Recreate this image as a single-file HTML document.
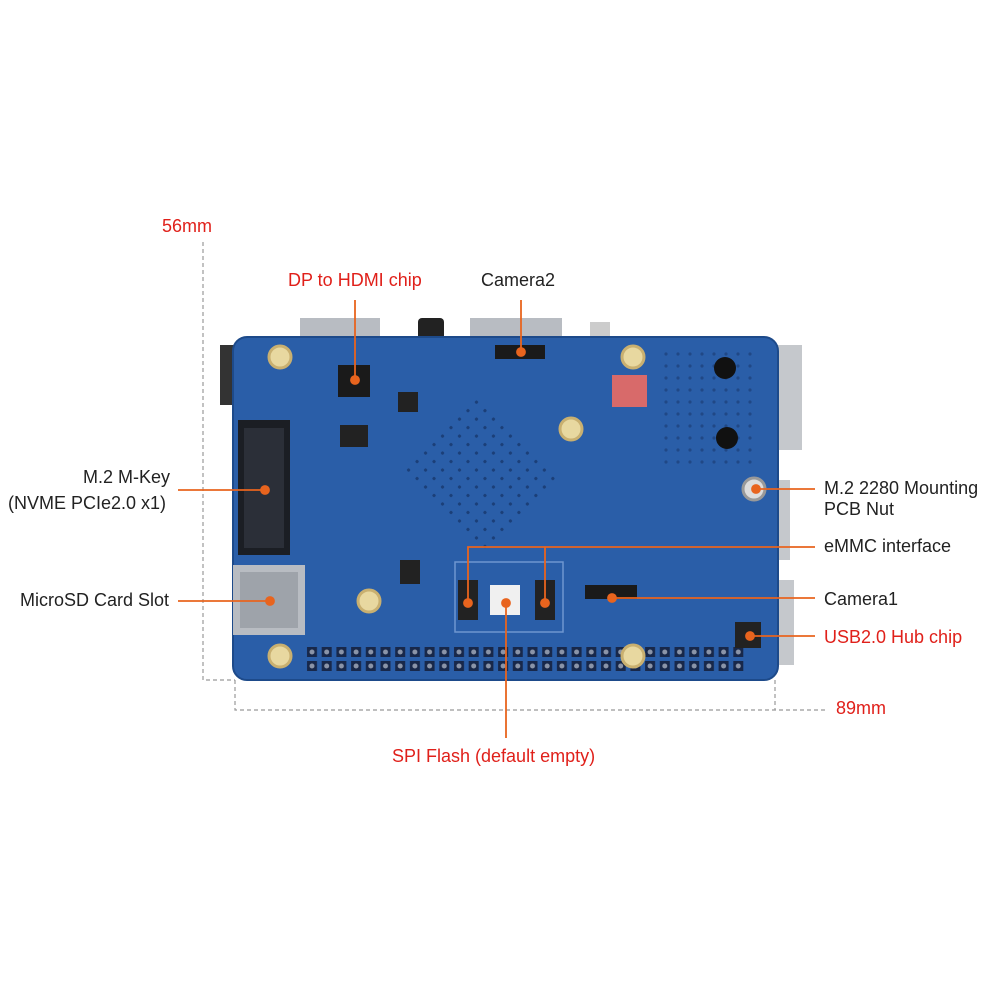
<!DOCTYPE html>
<html><head><style>
body{margin:0;width:1000px;height:1000px;background:#fff;position:relative;overflow:hidden;font-family:"Liberation Sans",sans-serif}
.t{position:absolute;font-size:18px;color:#222;white-space:nowrap;line-height:22px}
.r{color:#e0201a}
</style></head><body>
<svg width="1000" height="1000" style="position:absolute;left:0;top:0">
<defs>
<pattern id="pins" x="305" y="645" width="14.7" height="14" patternUnits="userSpaceOnUse">
<rect x="2" y="2" width="10" height="10" fill="#18284a"/><circle cx="7" cy="7" r="2.5" fill="#8a94a8"/>
</pattern>
<pattern id="vias" x="0" y="0" width="12" height="12" patternUnits="userSpaceOnUse">
<circle cx="6" cy="6" r="1.6" fill="#1b3f78"/>
</pattern>
</defs>
<g stroke="#999" stroke-dasharray="4,3" fill="none" stroke-width="1.2">
<path d="M203 242V680H235"/><path d="M235 680V710H826"/><path d="M775 680V710"/>
</g>
<rect x="300" y="318" width="80" height="26" fill="#b8bcc2"/>
<rect x="418" y="318" width="26" height="24" rx="4" fill="#222"/>
<rect x="470" y="318" width="92" height="26" fill="#b8bcc2"/>
<rect x="590" y="322" width="20" height="20" fill="#ccc"/>
<rect x="220" y="345" width="16" height="60" fill="#333"/>
<rect x="772" y="345" width="30" height="105" fill="#c5c8cc"/>
<rect x="772" y="480" width="18" height="80" fill="#c5c8cc"/>
<rect x="772" y="580" width="22" height="85" fill="#c5c8cc"/>
<rect x="233" y="337" width="545" height="343" rx="14" fill="#2a5ea8"/>
<rect x="420" y="420" width="120" height="110" fill="url(#vias)" transform="rotate(45 480 475)"/>
<rect x="660" y="350" width="100" height="120" fill="url(#vias)" opacity=".7"/>
<rect x="233" y="337" width="545" height="343" rx="14" fill="none" stroke="#1d4a8a" stroke-width="2"/>
<rect x="238" y="420" width="52" height="135" fill="#1b1e24"/>
<rect x="244" y="428" width="40" height="120" fill="#2b2f38"/>
<rect x="233" y="565" width="72" height="70" fill="#b8bcc2"/>
<rect x="240" y="572" width="58" height="56" fill="#9ea3aa"/>
<rect x="305" y="645" width="440" height="28" fill="url(#pins)"/>
<g fill="#e8d8a0" stroke="#c9b070" stroke-width="3">
<circle cx="280" cy="357" r="11"/><circle cx="633" cy="357" r="11"/>
<circle cx="571" cy="429" r="11"/><circle cx="369" cy="601" r="11"/>
<circle cx="280" cy="656" r="11"/><circle cx="633" cy="656" r="11"/>
</g>
<circle cx="754" cy="489" r="11" fill="#ddd" stroke="#999" stroke-width="3"/>
<rect x="338" y="365" width="32" height="32" fill="#1a1a1a"/>
<rect x="340" y="425" width="28" height="22" fill="#222"/>
<rect x="398" y="392" width="20" height="20" fill="#222"/>
<rect x="495" y="345" width="50" height="14" fill="#1a1a1a"/>
<rect x="458" y="580" width="20" height="40" fill="#222"/>
<rect x="490" y="585" width="30" height="30" fill="#f0f0f0"/>
<rect x="535" y="580" width="20" height="40" fill="#222"/>
<rect x="585" y="585" width="52" height="14" fill="#1a1a1a"/>
<rect x="735" y="622" width="26" height="26" fill="#222"/>
<rect x="400" y="560" width="20" height="24" fill="#222"/>
<rect x="455" y="562" width="108" height="70" fill="none" stroke="#6e96cf" stroke-width="1.5"/>
<circle cx="725" cy="368" r="11" fill="#111"/><circle cx="727" cy="438" r="11" fill="#111"/>
<rect x="612" y="375" width="35" height="32" fill="#d86a6a"/>
<g stroke="#e8641e" stroke-width="1.8" fill="#e8641e">
<line x1="355" y1="300" x2="355" y2="380"/><circle cx="355" cy="380" r="4"/>
<line x1="521" y1="300" x2="521" y2="352"/><circle cx="521" cy="352" r="4"/>
<line x1="178" y1="490" x2="265" y2="490"/><circle cx="265" cy="490" r="4"/>
<line x1="178" y1="601" x2="270" y2="601"/><circle cx="270" cy="601" r="4"/>
<line x1="756" y1="489" x2="815" y2="489"/><circle cx="756" cy="489" r="4"/>
<path d="M468 603V547H815M545 547V603" fill="none"/><circle cx="468" cy="603" r="4"/><circle cx="545" cy="603" r="4"/>
<line x1="612" y1="598" x2="815" y2="598"/><circle cx="612" cy="598" r="4"/>
<line x1="750" y1="636" x2="815" y2="636"/><circle cx="750" cy="636" r="4"/>
<line x1="506" y1="603" x2="506" y2="738"/><circle cx="506" cy="603" r="4"/>
</g>
</svg>
<div class="t r" style="left:162px;top:215px">56mm</div>
<div class="t r" style="left:836px;top:697px">89mm</div>
<div class="t r" style="left:288px;top:269px">DP to HDMI chip</div>
<div class="t" style="left:481px;top:269px">Camera2</div>
<div class="t" style="left:80px;top:466px;text-align:right;width:90px">M.2 M-Key</div>
<div class="t" style="left:8px;top:492px">(NVME PCIe2.0 x1)</div>
<div class="t" style="left:20px;top:589px">MicroSD Card Slot</div>
<div class="t" style="left:824px;top:477px">M.2 2280 Mounting</div>
<div class="t" style="left:824px;top:498px">PCB Nut</div>
<div class="t" style="left:824px;top:535px">eMMC interface</div>
<div class="t" style="left:824px;top:588px">Camera1</div>
<div class="t r" style="left:824px;top:626px">USB2.0 Hub chip</div>
<div class="t r" style="left:392px;top:745px">SPI Flash (default empty)</div>
</body></html>
